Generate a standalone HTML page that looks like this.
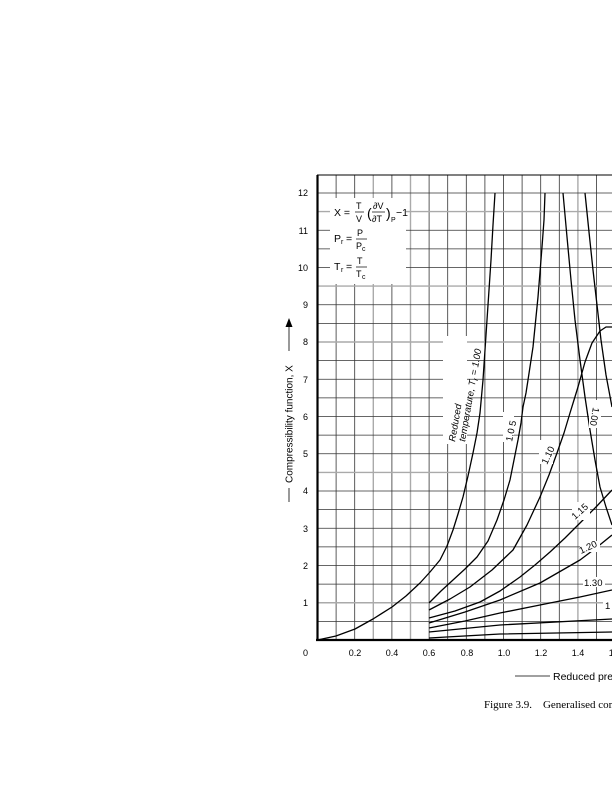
<!DOCTYPE html>
<html><head><meta charset="utf-8"><style>
html,body{margin:0;padding:0;background:#fff;}
svg{display:block;font-family:"Liberation Sans",sans-serif;}
</style></head><body>
<svg width="612" height="800" viewBox="0 0 612 800" xmlns="http://www.w3.org/2000/svg">
<g stroke="#333" stroke-width="0.8">
<line x1="336.1" y1="175" x2="336.1" y2="640"/>
<line x1="354.7" y1="175" x2="354.7" y2="640"/>
<line x1="373.3" y1="175" x2="373.3" y2="640" stroke="#aaa" stroke-width="1.4"/>
<line x1="391.9" y1="175" x2="391.9" y2="640"/>
<line x1="410.5" y1="175" x2="410.5" y2="640" stroke="#aaa" stroke-width="1.4"/>
<line x1="429.1" y1="175" x2="429.1" y2="640"/>
<line x1="447.7" y1="175" x2="447.7" y2="640"/>
<line x1="466.3" y1="175" x2="466.3" y2="640"/>
<line x1="484.9" y1="175" x2="484.9" y2="640"/>
<line x1="503.5" y1="175" x2="503.5" y2="640"/>
<line x1="522.1" y1="175" x2="522.1" y2="640"/>
<line x1="540.7" y1="175" x2="540.7" y2="640"/>
<line x1="559.3" y1="175" x2="559.3" y2="640"/>
<line x1="577.9" y1="175" x2="577.9" y2="640" stroke="#aaa" stroke-width="1.4"/>
<line x1="596.5" y1="175" x2="596.5" y2="640"/>
<line x1="317" y1="621.4" x2="612" y2="621.4"/>
<line x1="317" y1="602.75" x2="612" y2="602.75" stroke="#aaa" stroke-width="1.4"/>
<line x1="317" y1="584.1" x2="612" y2="584.1"/>
<line x1="317" y1="565.5" x2="612" y2="565.5"/>
<line x1="317" y1="546.9" x2="612" y2="546.9"/>
<line x1="317" y1="528.25" x2="612" y2="528.25"/>
<line x1="317" y1="509.6" x2="612" y2="509.6"/>
<line x1="317" y1="491" x2="612" y2="491"/>
<line x1="317" y1="472.4" x2="612" y2="472.4" stroke="#aaa" stroke-width="1.4"/>
<line x1="317" y1="453.75" x2="612" y2="453.75"/>
<line x1="317" y1="435.1" x2="612" y2="435.1"/>
<line x1="317" y1="416.5" x2="612" y2="416.5"/>
<line x1="317" y1="397.9" x2="612" y2="397.9"/>
<line x1="317" y1="379.25" x2="612" y2="379.25"/>
<line x1="317" y1="360.6" x2="612" y2="360.6"/>
<line x1="317" y1="342" x2="612" y2="342" stroke="#aaa" stroke-width="1.4"/>
<line x1="317" y1="323.4" x2="612" y2="323.4"/>
<line x1="317" y1="304.75" x2="612" y2="304.75"/>
<line x1="317" y1="286.1" x2="612" y2="286.1" stroke="#aaa" stroke-width="1.4"/>
<line x1="317" y1="267.5" x2="612" y2="267.5"/>
<line x1="317" y1="248.9" x2="612" y2="248.9"/>
<line x1="317" y1="230.25" x2="612" y2="230.25"/>
<line x1="317" y1="211.6" x2="612" y2="211.6" stroke="#aaa" stroke-width="1.4"/>
<line x1="317" y1="193" x2="612" y2="193"/>
</g>
<rect x="330" y="198" width="76" height="86" fill="#fff"/>
<g fill="none" stroke="#000" stroke-width="1.3" stroke-linejoin="round">
<polyline points="317.5,640 336,636 355,629 373,619 392,607 406,596 420,583 430,572 440,560 447,546 453,530 458,514 463,497 468,476 473,453 477,433 480,413 483,380 487,320 491,260 493,225 495,193"/>
<polyline points="429,603 441,591 453,580 465,569 477,557 488,541 497,520 504,500 510,480 514,460 518,440 521,423 523,407 526,393 528,380 533,347 538,297 542,247 544,220 545,193"/>
<polyline points="429,610 450,599 470,587 492,570 513,550 527,525 540,497 549,475 557,453 564,433 570,413 574,400 578,387 585,362 592,343 600,331 606,327 612,327"/>
<polyline points="563,193 567,237 571,280 575,320 580,360 585,397 590,430 595,460 600,487 606,507 612,525"/>
<polyline points="585,193 589,232 593,270 597,305 601,340 606,375 612,407"/>
<polyline points="429,618 455,611 480,602 500,591 520,577 535,565 550,552 565,538 580,523 596,507 612,490"/>
<polyline points="429,623 465,612 500,600 540,583 580,560 596,548 612,535"/>
<polyline points="429,628 465,621 500,613 540,605 580,597 612,590"/>
<polyline points="429,632 500,625 612,619"/>
<polyline points="429,638 500,634 612,632"/>
</g>
<line x1="317" y1="175" x2="612" y2="175" stroke="#000" stroke-width="1"/>
<line x1="317.5" y1="175" x2="317.5" y2="641" stroke="#000" stroke-width="2.2"/>
<line x1="316" y1="640" x2="612" y2="640" stroke="#000" stroke-width="2.2"/>
<g font-size="10.5" fill="#000">
<text x="334" y="216">X =</text>
<text x="356" y="209" font-size="9">T</text><line x1="355" y1="212" x2="364" y2="212" stroke="#000" stroke-width="0.7"/><text x="356" y="222" font-size="9">V</text>
<text x="367" y="218" font-size="14">(</text>
<text x="373" y="209" font-size="9">∂V</text><line x1="372" y1="212" x2="385" y2="212" stroke="#000" stroke-width="0.7"/><text x="372" y="222" font-size="9">∂T</text>
<text x="386" y="218" font-size="14">)</text><text x="391" y="222" font-size="7">P</text><text x="396" y="216">−1</text>
<text x="334" y="242">P</text><text x="341" y="244" font-size="7">r</text><text x="346" y="242">=</text>
<text x="357" y="236" font-size="9">P</text><line x1="356" y1="239" x2="367" y2="239" stroke="#000" stroke-width="0.7"/><text x="356" y="249" font-size="9">P</text><text x="362" y="251" font-size="7">c</text>
<text x="334" y="270">T</text><text x="341" y="272" font-size="7">r</text><text x="346" y="270">=</text>
<text x="357" y="264" font-size="9">T</text><line x1="356" y1="267" x2="367" y2="267" stroke="#000" stroke-width="0.7"/><text x="356" y="277" font-size="9">T</text><text x="362" y="279" font-size="7">c</text>
</g>
<g font-size="9.5" fill="#000">
<rect x="443" y="336" width="24" height="108" fill="#fff"/>
<text transform="translate(455,442) rotate(-80)" font-style="italic">Reduced</text>
<text transform="translate(465,442) rotate(-80)" font-style="italic">temperature, T<tspan font-size="7" dy="2">r</tspan><tspan dy="-2"> = 1.00</tspan></text>
<rect x="503" y="412" width="11" height="30" fill="#fff"/>
<text transform="translate(512,442) rotate(-78)">1.0 5</text>
<rect x="539" y="440" width="14" height="24" fill="#fff"/>
<text transform="translate(547,465) rotate(-65)">1.10</text>
<rect x="589" y="400" width="12" height="28" fill="#fff"/>
<text transform="translate(593,407) rotate(100)">1.00</text>
<rect x="572" y="502" width="18" height="18" fill="#fff"/>
<text transform="translate(575,520) rotate(-42)">1.15</text>
<rect x="580" y="541" width="20" height="11" fill="#fff"/>
<text transform="translate(581,554) rotate(-25)">1.20</text>
<rect x="583" y="577" width="22" height="10" fill="#fff"/>
<text x="584" y="586">1.30</text>
<rect x="603" y="600" width="9" height="10" fill="#fff"/>
<text x="605" y="609">1</text>
</g>
<g font-size="9" fill="#000" text-anchor="end">
<text x="308" y="196">12</text><text x="308" y="234">11</text><text x="308" y="271">10</text>
<text x="308" y="308">9</text><text x="308" y="345">8</text><text x="308" y="383">7</text>
<text x="308" y="420">6</text><text x="308" y="457">5</text><text x="308" y="494">4</text>
<text x="308" y="532">3</text><text x="308" y="569">2</text><text x="308" y="606">1</text>
<text x="308" y="656">0</text>
</g>
<g font-size="9" fill="#000" text-anchor="middle">
<text x="355" y="656">0.2</text><text x="392" y="656">0.4</text><text x="429" y="656">0.6</text>
<text x="467" y="656">0.8</text><text x="504" y="656">1.0</text><text x="541" y="656">1.2</text>
<text x="578" y="656">1.4</text><text x="615" y="656">1.6</text>
</g>
<line x1="515" y1="676" x2="550" y2="676" stroke="#000" stroke-width="0.8"/>
<text x="553" y="680" font-size="10.5">Reduced pressure</text>
<g transform="translate(289,502) rotate(-90)">
<line x1="0" y1="0" x2="14" y2="0" stroke="#000" stroke-width="0.8"/>
<text x="19" y="3.5" font-size="10">Compressibility function, X</text>
<line x1="151" y1="0" x2="176" y2="0" stroke="#000" stroke-width="0.8"/>
<path d="M184,0 L175,-3.5 L175,3.5 Z" fill="#000"/>
</g>
<text x="484" y="708" font-family="Liberation Serif,serif" font-size="11" style="white-space:pre">Figure 3.9.    Generalised compressibility</text>
</svg>
</body></html>
